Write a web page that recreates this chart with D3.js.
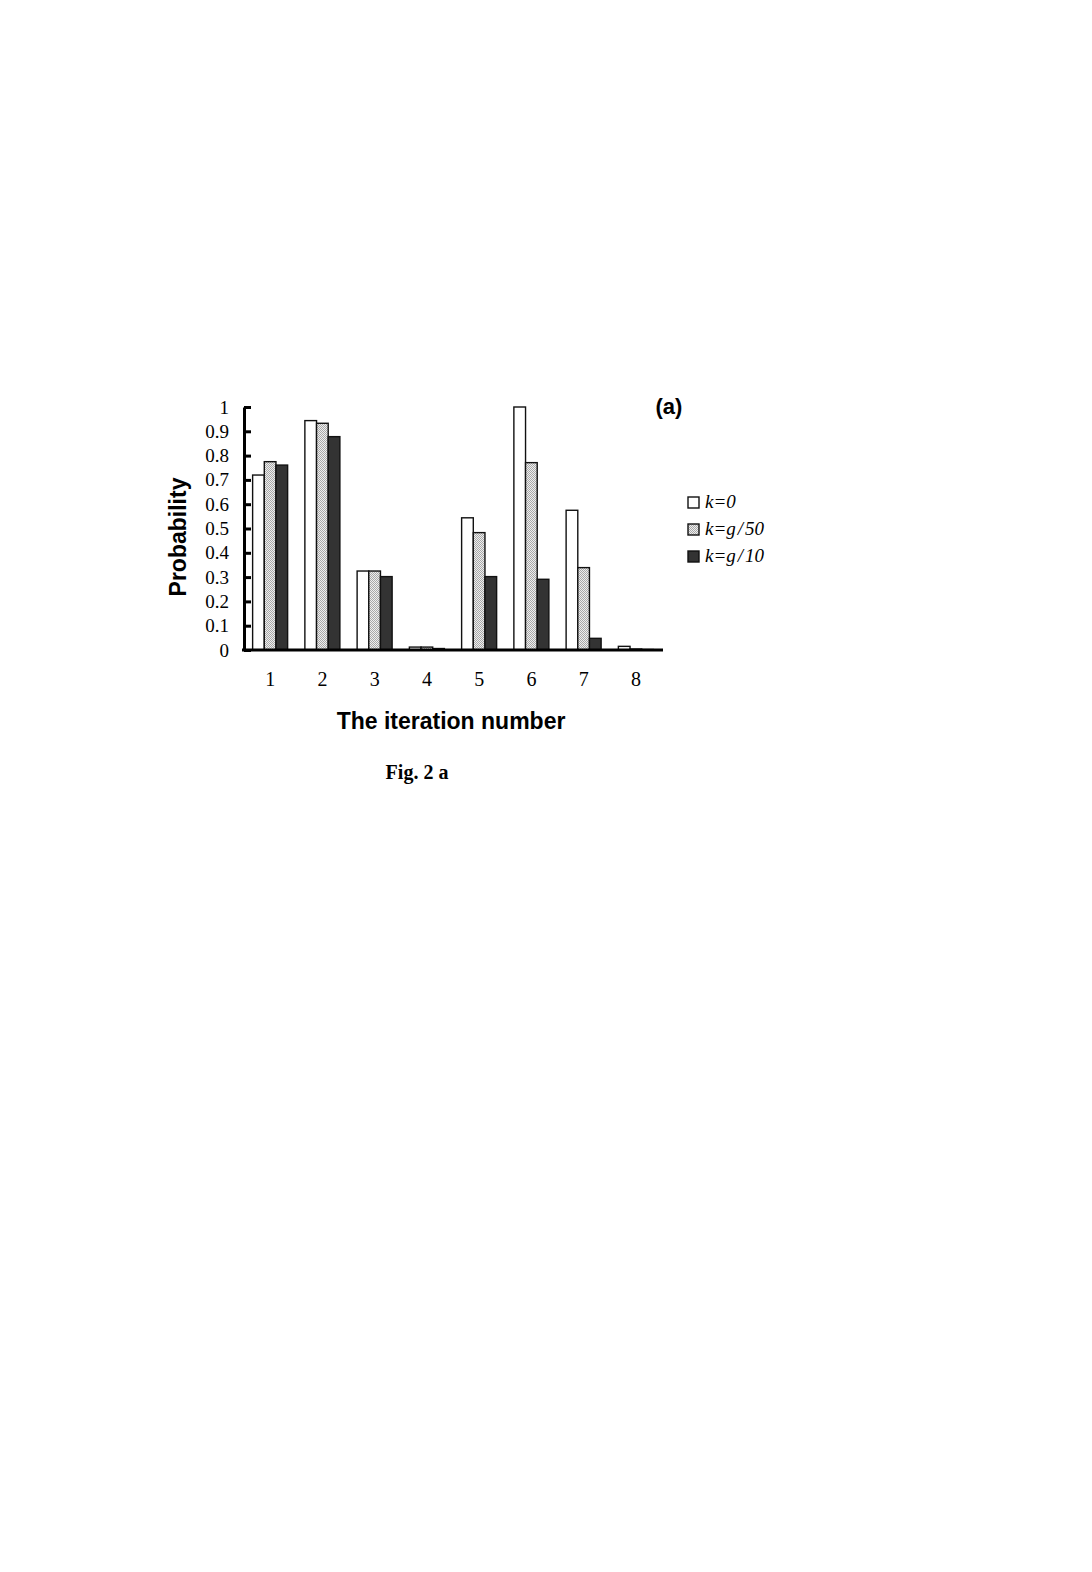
<!DOCTYPE html>
<html><head><meta charset="utf-8">
<script src="https://cdn.jsdelivr.net/npm/d3@7"></script>
<style>body{margin:0;background:#fff}</style>
</head><body>
<script>
const categories = ["1","2","3","4","5","6","7","8"];
const seriesNames = ["k=0","k=g/50","k=g/10"];
const k0    = [0.72, 0.944, 0.325, 0.012, 0.544, 1.0, 0.575, 0.015];
const kg50  = [0.775, 0.933, 0.325, 0.012, 0.483, 0.771, 0.339, 0.004];
const kg10  = [0.761, 0.878, 0.302, 0.006, 0.302, 0.291, 0.048, 0.002];
const yTicks = [0,0.1,0.2,0.3,0.4,0.5,0.6,0.7,0.8,0.9,1];
const yTickLabels = ["0","0.1","0.2","0.3","0.4","0.5","0.6","0.7","0.8","0.9","1"];

const W=1092,H=1572;
const svg=d3.select("body").append("svg").attr("width",W).attr("height",H);
const defs=svg.append("defs");
const pat=defs.append("pattern").attr("id","dots").attr("patternUnits","userSpaceOnUse").attr("width",2).attr("height",2);
pat.append("rect").attr("width",2).attr("height",2).attr("fill","#eeeeee");
pat.append("rect").attr("width",1).attr("height",1).attr("fill","#a8a8a8");
pat.append("rect").attr("x",1).attr("y",1).attr("width",1).attr("height",1).attr("fill","#a8a8a8");
const fills=["#ffffff","url(#dots)","#333333"];

const x=d3.scaleBand().domain(categories).range([244,662]).paddingInner(0.33).paddingOuter(0.165);
const xs=d3.scaleBand().domain(seriesNames).range([0,x.bandwidth()]);
const y=d3.scaleLinear().domain([0,1]).range([650,407]);
const series=[k0,kg50,kg10];

const g=svg.append("g");
series.forEach((vals,si)=>{
  g.selectAll(null).data(vals).enter().append("rect")
   .attr("x",(d,i)=>x(categories[i])+xs(seriesNames[si]))
   .attr("width",xs.bandwidth())
   .attr("y",d=>y(d))
   .attr("height",d=>y(0)-y(d))
   .attr("fill",fills[si]).attr("stroke","#111").attr("stroke-width",1.4);
});

// y axis
const ya=d3.axisLeft(y).tickValues(yTicks).tickFormat((d,i)=>yTickLabels[i]).tickSizeInner(-7).tickSizeOuter(0).tickPadding(15);
const yg=svg.append("g").attr("transform","translate(244,0)").call(ya);
yg.select(".domain").attr("stroke","#000").attr("stroke-width",3);
yg.selectAll(".tick line").attr("stroke","#000").attr("stroke-width",3);
yg.selectAll("text").attr("font-family","Liberation Serif, serif").attr("font-size",19).attr("fill","#000");

// x axis
const xa=d3.axisBottom(x).tickSize(0).tickPadding(22);
const xg=svg.append("g").attr("transform","translate(0,650)").call(xa);
xg.select(".domain").attr("stroke","#000").attr("stroke-width",3).attr("d","M242,0H663");
xg.selectAll("text").attr("font-family","Liberation Serif, serif").attr("font-size",20).attr("fill","#000");

// titles
svg.append("text").attr("transform","translate(186,537) rotate(-90)").attr("text-anchor","middle")
  .attr("font-family","Liberation Sans, Arial, sans-serif").attr("font-weight","bold").attr("font-size",23).text("Probability");
svg.append("text").attr("x",451).attr("y",729).attr("text-anchor","middle")
  .attr("font-family","Liberation Sans, Arial, sans-serif").attr("font-weight","bold").attr("font-size",23).text("The iteration number");
svg.append("text").attr("x",669).attr("y",414).attr("text-anchor","middle")
  .attr("font-family","Liberation Sans, Arial, sans-serif").attr("font-weight","bold").attr("font-size",22).text("(a)");
svg.append("text").attr("x",417).attr("y",779).attr("text-anchor","middle")
  .attr("font-family","Liberation Serif, serif").attr("font-weight","bold").attr("font-size",20).text("Fig. 2 a");

// legend
const leg=svg.append("g");
seriesNames.forEach((n,i)=>{
  const yy=497+i*27;
  leg.append("rect").attr("x",688).attr("y",yy).attr("width",11).attr("height",11)
    .attr("fill",fills[i]).attr("stroke","#111").attr("stroke-width",1.4);
  const t=leg.append("text").attr("x",705).attr("y",yy+11).attr("font-family","Liberation Serif, serif")
    .attr("font-style","italic").attr("font-size",19);
  const parts=n.split("/");
  t.append("tspan").text(parts[0]);
  if(parts.length>1){
    t.append("tspan").attr("dx",2).text("/");
    t.append("tspan").attr("dx",2).text(parts[1]);
  }
});
</script>
</body></html>
